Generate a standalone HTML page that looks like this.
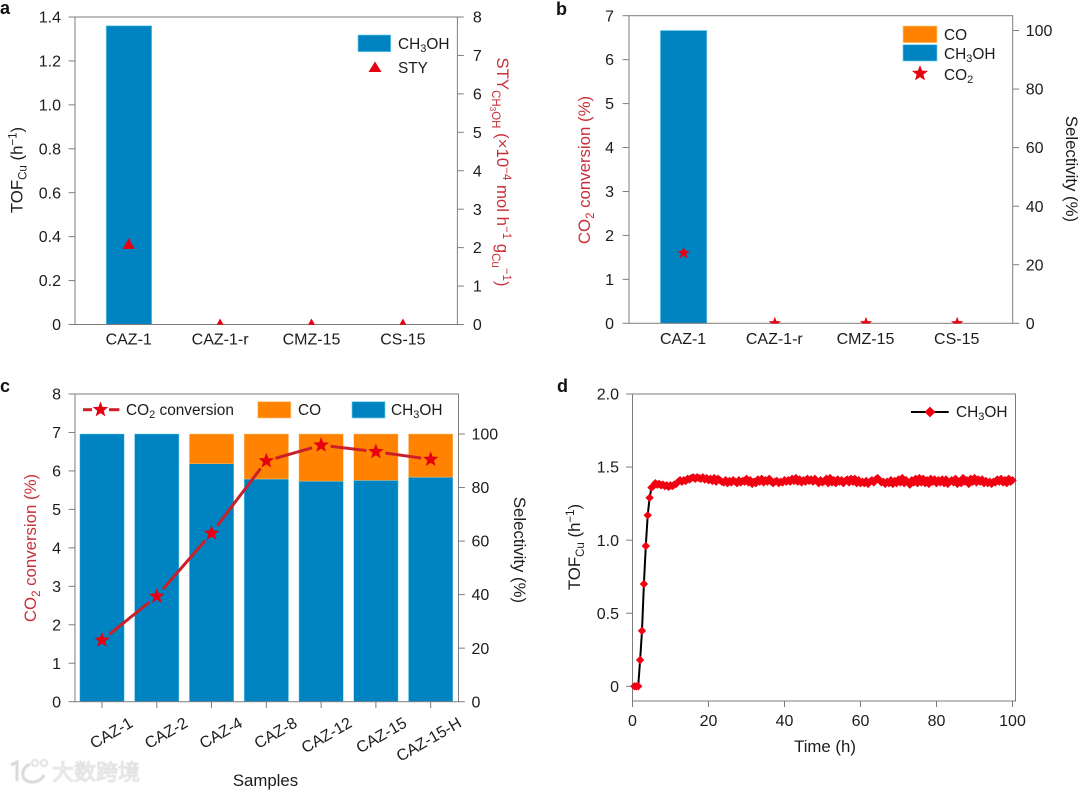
<!DOCTYPE html>
<html lang="en">
<head>
<meta charset="utf-8">
<title>Catalyst performance panels</title>
<style>
html,body{margin:0;padding:0;background:#fff;}
body{width:1080px;height:790px;overflow:hidden;}
svg{display:block;filter:blur(0.3px);}
text{font-family:"Liberation Sans","Noto Sans CJK SC",sans-serif;font-size:16px;fill:#1c1c1c;}
.red{fill:#c9303a;}
.tt{font-size:16.8px;}
.lg{font-size:15.4px;}
.pl{font-weight:bold;font-size:18px;fill:#111;}
</style>
</head>
<body>
<svg id="fig" xmlns="http://www.w3.org/2000/svg" width="1080" height="790" viewBox="0 0 1080 790">
  <defs>
    <clipPath id="clip-a"><rect x="75" y="17" width="382.4" height="307.8"/></clipPath>
    <clipPath id="clip-b"><rect x="629" y="15.7" width="383.7" height="307.9"/></clipPath>
    <filter id="wm-blur"><feGaussianBlur stdDeviation="0.6"/></filter>
  </defs>
  <rect width="1080" height="790" fill="#fff"/>
  <g id="panel-a"></g>
  <g id="panel-b"></g>
  <g id="panel-c"></g>
  <g id="panel-d"></g>

  <text class="pl" x="0" y="14">a</text>
  <text class="pl" x="556" y="15">b</text>
  <text class="pl" x="0" y="392">c</text>
  <text class="pl" x="557" y="392">d</text>

  <!-- Panel a titles and legend -->
  <text class="tt" transform="translate(22.5,170) rotate(-90)" text-anchor="middle">TOF<tspan dy="4" font-size="11.5">Cu</tspan><tspan dy="-4"> (h</tspan><tspan dy="-6" font-size="11.5">−1</tspan><tspan dy="6">)</tspan></text>
  <text class="red tt" transform="translate(497,172) rotate(90)" text-anchor="middle">STY<tspan dy="5" font-size="11.5">CH</tspan><tspan dy="2" font-size="8">3</tspan><tspan dy="-2" font-size="11.5">OH</tspan><tspan dy="-5"> (×10</tspan><tspan dy="-6" font-size="11.5">−4</tspan><tspan dy="6"> mol h</tspan><tspan dy="-6" font-size="11.5">−1</tspan><tspan dy="6"> g</tspan><tspan dy="5" font-size="11.5">Cu</tspan><tspan dy="-11" font-size="11.5">−1</tspan><tspan dy="6">)</tspan></text>
  <rect x="358" y="35" width="32.7" height="16.7" fill="#0083c1" stroke="#6fd0ea" stroke-width="0.7"/>
  <text class="lg" x="398" y="49">CH<tspan dy="3" font-size="11">3</tspan><tspan dy="-3">OH</tspan></text>
  <polygon points="375,61.5 381.5,72 368.5,72" fill="#e60012"/>
  <text class="lg" x="398" y="73">STY</text>

  <!-- Panel b titles and legend -->
  <text class="red tt" transform="translate(590,170) rotate(-90)" text-anchor="middle">CO<tspan dy="4" font-size="11.5">2</tspan><tspan dy="-4"> conversion (%)</tspan></text>
  <text class="tt" transform="translate(1066,169) rotate(90)" text-anchor="middle">Selectivity (%)</text>
  <rect x="903" y="26" width="34" height="16.7" fill="#ff8200" stroke="#f5d08a" stroke-width="0.7"/>
  <rect x="903" y="44.7" width="34" height="16.3" fill="#0083c1" stroke="#6fd0ea" stroke-width="0.7"/>
  <polygon id="legend-star-b" fill="#e60012"/>
  <text class="lg" x="944" y="40">CO</text>
  <text class="lg" x="944" y="59">CH<tspan dy="3" font-size="11">3</tspan><tspan dy="-3">OH</tspan></text>
  <text class="lg" x="944" y="80">CO<tspan dy="3" font-size="11">2</tspan></text>

  <!-- Panel c titles -->
  <text class="red tt" transform="translate(36,548) rotate(-90)" text-anchor="middle">CO<tspan dy="4" font-size="11.5">2</tspan><tspan dy="-4"> conversion (%)</tspan></text>
  <text class="tt" transform="translate(514,550) rotate(90)" text-anchor="middle">Selectivity (%)</text>
  <text class="tt" x="265.5" y="786" text-anchor="middle">Samples</text>

  <!-- Panel d titles -->
  <text class="tt" transform="translate(580,547) rotate(-90)" text-anchor="middle">TOF<tspan dy="4" font-size="11.5">Cu</tspan><tspan dy="-4"> (h</tspan><tspan dy="-6" font-size="11.5">−1</tspan><tspan dy="6">)</tspan></text>
  <text class="tt" x="825" y="752" text-anchor="middle">Time (h)</text>

  <!-- Watermark -->
  <g filter="url(#wm-blur)">
    <path d="M11 765 L17 762 L17 781 M30 764 C20 768 20 782 32 782 C38 782 42 779 44 775" fill="none" stroke="#d8d8d8" stroke-width="3"/>
    <circle cx="35" cy="763" r="3.2" fill="none" stroke="#d8d8d8" stroke-width="1.5"/>
    <circle cx="44" cy="763" r="3.2" fill="none" stroke="#d8d8d8" stroke-width="1.5"/>
    <text x="52" y="780" style="font-size:22px;fill:#f4f4f4;stroke:#d4d4d4;stroke-width:0.7px;font-family:'Liberation Sans','Noto Sans CJK SC',sans-serif;">大数跨境</text>
  </g>
</svg>

<script>
// ---------- Panel a data ----------
const categoriesAB = ['CAZ-1', 'CAZ-1-r', 'CMZ-15', 'CS-15'];
const tofValues = [1.36, 0, 0, 0];
const styValues = [2.09, 0, 0, 0];
const aLeftTicks = [0, 0.2, 0.4, 0.6, 0.8, 1.0, 1.2, 1.4];
const aLeftLabels = ['0', '0.2', '0.4', '0.6', '0.8', '1.0', '1.2', '1.4'];
const aRightTicks = [0, 1, 2, 3, 4, 5, 6, 7, 8];

// ---------- Panel b data ----------
const bMethanolSelectivity = [100, 0, 0, 0];
const bConversion = [1.6, 0, 0, 0];
const bLeftTicks = [0, 1, 2, 3, 4, 5, 6, 7];
const bRightTicks = [0, 20, 40, 60, 80, 100];

// ---------- Panel c data ----------
const categoriesC = ['CAZ-1', 'CAZ-2', 'CAZ-4', 'CAZ-8', 'CAZ-12', 'CAZ-15', 'CAZ-15-H'];
const cMethanol = [100, 100, 88.9, 83.2, 82.4, 82.7, 83.9];
const cCO = [0, 0, 11.1, 16.8, 17.6, 17.3, 16.1];
const cConversion = [1.60, 2.74, 4.38, 6.26, 6.67, 6.50, 6.30];
const cLeftTicks = [0, 1, 2, 3, 4, 5, 6, 7, 8];
const cRightTicks = [0, 20, 40, 60, 80, 100];

// ---------- Panel d data ----------
const dTimes = [
0.5,1,1.5,2,2.5,3,3.5,4,4.5,5,5.5,6,6.5,7,7.5,8,8.5,9,9.5,10,
10.5,11,11.5,12,12.5,13,13.5,14,14.5,15,15.5,16,16.5,17,17.5,18,18.5,19,19.5,20,
20.5,21,21.5,22,22.5,23,23.5,24,24.5,25,25.5,26,26.5,27,27.5,28,28.5,29,29.5,30,
30.5,31,31.5,32,32.5,33,33.5,34,34.5,35,35.5,36,36.5,37,37.5,38,38.5,39,39.5,40,
40.5,41,41.5,42,42.5,43,43.5,44,44.5,45,45.5,46,46.5,47,47.5,48,48.5,49,49.5,50,
50.5,51,51.5,52,52.5,53,53.5,54,54.5,55,55.5,56,56.5,57,57.5,58,58.5,59,59.5,60,
60.5,61,61.5,62,62.5,63,63.5,64,64.5,65,65.5,66,66.5,67,67.5,68,68.5,69,69.5,70,
70.5,71,71.5,72,72.5,73,73.5,74,74.5,75,75.5,76,76.5,77,77.5,78,78.5,79,79.5,80,
80.5,81,81.5,82,82.5,83,83.5,84,84.5,85,85.5,86,86.5,87,87.5,88,88.5,89,89.5,90,
90.5,91,91.5,92,92.5,93,93.5,94,94.5,95,95.5,96,96.5,97,97.5,98,98.5,99,99.5,100];
const dTof = [
0,0,0,0.18,0.38,0.70,0.96,1.17,1.29,1.36,1.37,1.39,1.38,1.385,1.375,1.38,1.37,1.375,1.365,1.375,
1.37,1.38,1.385,1.40,1.41,1.40,1.41,1.405,1.42,1.415,1.425,1.43,1.42,1.43,1.425,1.42,1.43,1.415,1.425,1.41,
1.42,1.405,1.425,1.40,1.42,1.41,1.40,1.395,1.41,1.39,1.405,1.395,1.41,1.40,1.39,1.41,1.395,1.405,1.40,1.42,
1.395,1.41,1.385,1.40,1.39,1.415,1.40,1.42,1.395,1.41,1.40,1.42,1.40,1.39,1.40,1.405,1.39,1.40,1.395,1.41,
1.40,1.41,1.40,1.42,1.405,1.425,1.40,1.415,1.395,1.41,1.40,1.42,1.405,1.415,1.40,1.42,1.405,1.39,1.41,1.395,
1.405,1.42,1.39,1.425,1.395,1.41,1.39,1.415,1.40,1.41,1.39,1.405,1.415,1.395,1.42,1.40,1.42,1.39,1.41,1.39,
1.40,1.39,1.405,1.385,1.40,1.41,1.395,1.415,1.425,1.41,1.395,1.40,1.385,1.40,1.39,1.41,1.385,1.405,1.39,1.415,
1.395,1.425,1.39,1.41,1.395,1.38,1.41,1.395,1.42,1.39,1.425,1.395,1.42,1.39,1.41,1.385,1.42,1.40,1.415,1.39,
1.41,1.395,1.415,1.39,1.415,1.385,1.40,1.41,1.395,1.42,1.385,1.40,1.39,1.425,1.40,1.41,1.385,1.42,1.40,1.425,
1.395,1.415,1.40,1.415,1.39,1.405,1.39,1.40,1.385,1.40,1.395,1.415,1.40,1.42,1.395,1.41,1.39,1.42,1.40,1.41];
const dYTicks = [0, 0.5, 1.0, 1.5, 2.0];
const dYLabels = ['0', '0.5', '1.0', '1.5', '2.0'];
const dXTicks = [0, 20, 40, 60, 80, 100];

// ---------- Helpers ----------
const NS = 'http://www.w3.org/2000/svg';
const AXIS = '#7d7d7d', BLUE = '#0083c1', ORANGE = '#ff8200', RED = '#e60012', LINE_RED = '#cb1f2a';
const linear = (d0, d1, r0, r1) => v => r0 + (v - d0) * (r1 - r0) / (d1 - d0);
function svgEl(tag, attrs, parent) {
  const el = document.createElementNS(NS, tag);
  for (const k in attrs) el.setAttribute(k, attrs[k]);
  parent.appendChild(el);
  return el;
}
function starPoints(cx, cy, R) {
  const pts = [];
  for (let i = 0; i < 10; i++) {
    const r = i % 2 ? R * 0.42 : R;
    const a = -Math.PI / 2 + i * Math.PI / 5;
    pts.push((cx + r * Math.cos(a)).toFixed(2) + ',' + (cy + r * Math.sin(a)).toFixed(2));
  }
  return pts.join(' ');
}
function trianglePoints(cx, cy, h) {
  return [cx + ',' + (cy - h), (cx + h) + ',' + (cy + h * 0.8), (cx - h) + ',' + (cy + h * 0.8)].join(' ');
}
function diamondPoints(cx, cy, h) {
  return [cx + ',' + (cy - h), (cx + h) + ',' + cy, cx + ',' + (cy + h), (cx - h) + ',' + cy].join(' ');
}
function drawFrame(parent, x0, y0, x1, y1, prefix) {
  const el = svgEl('rect', {x: x0, y: y0, width: x1 - x0, height: y1 - y0, fill: 'none', stroke: AXIS, 'stroke-width': 1}, parent);
  
  
}
function drawYAxis(parent, ticks, labels, scale, axisX, dir, prefix, labelGap) {
  ticks.forEach((t, i) => {
    const y = scale(t);
    const tick = svgEl('line', {x1: axisX, x2: axisX + dir * 6.4, y1: y, y2: y, stroke: AXIS, 'stroke-width': 1}, parent);
    
    
    const label = svgEl('text', {x: axisX + dir * labelGap, y: y + 5.6, 'text-anchor': dir < 0 ? 'end' : 'start'}, parent);
    label.textContent = labels[i];
    
    
  });
}

// ---------- Panel a ----------
(function () {
  const g = document.getElementById('panel-a');
  const yL = linear(0, 1.4, 324.5, 17), yR = linear(0, 8, 324.5, 17);
  const xC = i => 128.7 + 91.4 * i;
  categoriesAB.forEach((c, i) => {
    if (tofValues[i] > 0) {
      const bar = svgEl('rect', {x: xC(i) - 22.5, y: yL(tofValues[i]), width: 45.5, height: yL(0) - yL(tofValues[i]), fill: BLUE, stroke: '#6fd0ea', 'stroke-width': 0.7}, g);
      
      
    }
    const lab = svgEl('text', {x: xC(i), y: 344.5, 'text-anchor': 'middle'}, g);
    lab.textContent = c;
    
    
  });
  drawFrame(g, 75, 17, 457.4, 324.5, 'panel-a');
  drawYAxis(g, aLeftTicks, aLeftLabels, yL, 75, -1, 'panel-a-left', 14);
  drawYAxis(g, aRightTicks, aRightTicks.map(String), yR, 457.4, 1, 'panel-a-right', 15.5);
  const mg = svgEl('g', {'clip-path': 'url(#clip-a)'}, g);
  styValues.forEach((v, i) => {
    const m = svgEl('polygon', {points: trianglePoints(xC(i), yR(v), 6), fill: RED}, mg);
    
    
  });
})();

// ---------- Panel b ----------
(function () {
  const g = document.getElementById('panel-b');
  const yL = linear(0, 7, 323.3, 15.7), yR = linear(0, 100, 323.3, 30.5);
  const xC = i => 683.6 + 91.2 * i;
  categoriesAB.forEach((c, i) => {
    if (bMethanolSelectivity[i] > 0) {
      const bar = svgEl('rect', {x: xC(i) - 23.2, y: yR(bMethanolSelectivity[i]), width: 46.4, height: yR(0) - yR(bMethanolSelectivity[i]), fill: BLUE, stroke: '#6fd0ea', 'stroke-width': 0.7}, g);
      
      
    }
    const lab = svgEl('text', {x: xC(i) - 0.5, y: 344, 'text-anchor': 'middle'}, g);
    lab.textContent = c;
    
    
  });
  drawFrame(g, 629, 15.7, 1012.7, 323.3, 'panel-b');
  drawYAxis(g, bLeftTicks, bLeftTicks.map(String), yL, 629, -1, 'panel-b-left', 15);
  drawYAxis(g, bRightTicks, bRightTicks.map(String), yR, 1012.7, 1, 'panel-b-right', 13);
  const mg = svgEl('g', {'clip-path': 'url(#clip-b)'}, g);
  bConversion.forEach((v, i) => {
    const m = svgEl('polygon', {points: starPoints(xC(i), yL(v), 6.5), fill: RED}, mg);
    
    
  });
  document.getElementById('legend-star-b').setAttribute('points', starPoints(920, 73.5, 8.5));
})();

// ---------- Panel c ----------
(function () {
  const g = document.getElementById('panel-c');
  const y0 = 701.7;
  const yL = linear(0, 8, y0, 394), yR = linear(0, 100, y0, 434);
  const xC = i => 102 + 54.78 * i;
  const w = 44.3;
  categoriesC.forEach((c, i) => {
    const b = svgEl('rect', {x: xC(i) - w / 2, y: yR(cMethanol[i]), width: w, height: y0 - yR(cMethanol[i]), fill: BLUE, stroke: '#6fd0ea', 'stroke-width': 0.5}, g);
    
    
    if (cCO[i] > 0) {
      const o = svgEl('rect', {x: xC(i) - w / 2, y: yR(cMethanol[i] + cCO[i]), width: w, height: yR(cMethanol[i]) - yR(cMethanol[i] + cCO[i]), fill: ORANGE, stroke: '#f8c27a', 'stroke-width': 0.5}, g);
      
      
    }
    const t = svgEl('line', {x1: xC(i), x2: xC(i), y1: y0, y2: y0 + 6.4, stroke: AXIS, 'stroke-width': 1}, g);
    
    
    const lab = svgEl('text', {'text-anchor': 'end', transform: 'translate(' + (xC(i) + 32) + ',726) rotate(-30)'}, g);
    lab.textContent = c;
    
    
  });
  drawFrame(g, 75, 394, 458.5, y0, 'panel-c');
  drawYAxis(g, cLeftTicks, cLeftTicks.map(String), yL, 75, -1, 'panel-c-left', 14);
  drawYAxis(g, cRightTicks, cRightTicks.map(String), yR, 458.5, 1, 'panel-c-right', 13);
  // Line segments stop short of each star, leaving the small gap seen in the figure
  const gap = 9.5;
  cConversion.forEach((v, i) => {
    if (i === cConversion.length - 1) return;
    const ax = xC(i), ay = yL(v), bx = xC(i + 1), by = yL(cConversion[i + 1]);
    const len = Math.hypot(bx - ax, by - ay), ux = (bx - ax) / len, uy = (by - ay) / len;
    const seg = svgEl('line', {x1: ax + ux * gap, y1: ay + uy * gap, x2: bx - ux * gap, y2: by - uy * gap, stroke: LINE_RED, 'stroke-width': 3}, g);
    
    
  });
  cConversion.forEach((v, i) => {
    const star = svgEl('polygon', {points: starPoints(xC(i), yL(v), 8.2), fill: RED}, g);
    
    
  });
  // Legend
  const ll = svgEl('line', {x1: 83, x2: 92, y1: 409.7, y2: 409.7, stroke: LINE_RED, 'stroke-width': 3}, g);
  
  
  const lr = svgEl('line', {x1: 109, x2: 119.4, y1: 409.7, y2: 409.7, stroke: LINE_RED, 'stroke-width': 3}, g);
  
  
  const ls = svgEl('polygon', {points: starPoints(100.5, 409.7, 8.2), fill: RED}, g);
  
  
  const so = svgEl('rect', {x: 257.8, y: 401.7, width: 33, height: 16.3, fill: ORANGE, stroke: '#f8c27a', 'stroke-width': 0.7}, g);
  
  
  const sb = svgEl('rect', {x: 352, y: 401.7, width: 33, height: 16.3, fill: BLUE, stroke: '#6fd0ea', 'stroke-width': 0.7}, g);
  
  
  const t1 = svgEl('text', {x: 126, y: 415, class: 'lg'}, g);
  t1.innerHTML = 'CO<tspan dy="3" font-size="11">2</tspan><tspan dy="-3"> conversion</tspan>';
  
  
  const t2 = svgEl('text', {x: 298, y: 415, class: 'lg'}, g);
  t2.textContent = 'CO';
  
  
  const t3 = svgEl('text', {x: 391, y: 415, class: 'lg'}, g);
  t3.innerHTML = 'CH<tspan dy="3" font-size="11">3</tspan><tspan dy="-3">OH</tspan>';
  
  
})();

// ---------- Panel d ----------
(function () {
  const g = document.getElementById('panel-d');
  const x = linear(0, 100, 632.5, 1012.5), y = linear(0, 2, 686.3, 394);
  drawFrame(g, 632.5, 394, 1015.5, 701, 'panel-d');
  drawYAxis(g, dYTicks, dYLabels, y, 632.5, -1, 'panel-d-y', 13.5);
  dXTicks.forEach(t => {
    const tick = svgEl('line', {x1: x(t), x2: x(t), y1: 701, y2: 707, stroke: AXIS, 'stroke-width': 1}, g);
    
    
    const lab = svgEl('text', {x: x(t), y: 726, 'text-anchor': 'middle'}, g);
    lab.textContent = String(t);
    
    
  });
  const line = svgEl('polyline', {points: dTof.map((v, i) => x(dTimes[i]) + ',' + y(v)).join(' '), fill: 'none', stroke: '#000', 'stroke-width': 2}, g);
  
  
  dTof.forEach((v, i) => {
    const m = svgEl('polygon', {points: diamondPoints(x(dTimes[i]), y(v), 4.2), fill: '#f00010'}, g);
    
    
  });
  const ll = svgEl('line', {x1: 911, x2: 948.7, y1: 412, y2: 412, stroke: '#000', 'stroke-width': 2}, g);
  
  
  const lm = svgEl('polygon', {points: diamondPoints(930, 412, 5.4), fill: '#f00010'}, g);
  
  
  const lt = svgEl('text', {x: 956, y: 417, class: 'lg'}, g);
  lt.innerHTML = 'CH<tspan dy="3" font-size="11">3</tspan><tspan dy="-3">OH</tspan>';
  
  
})();
</script>
</body>
</html>
